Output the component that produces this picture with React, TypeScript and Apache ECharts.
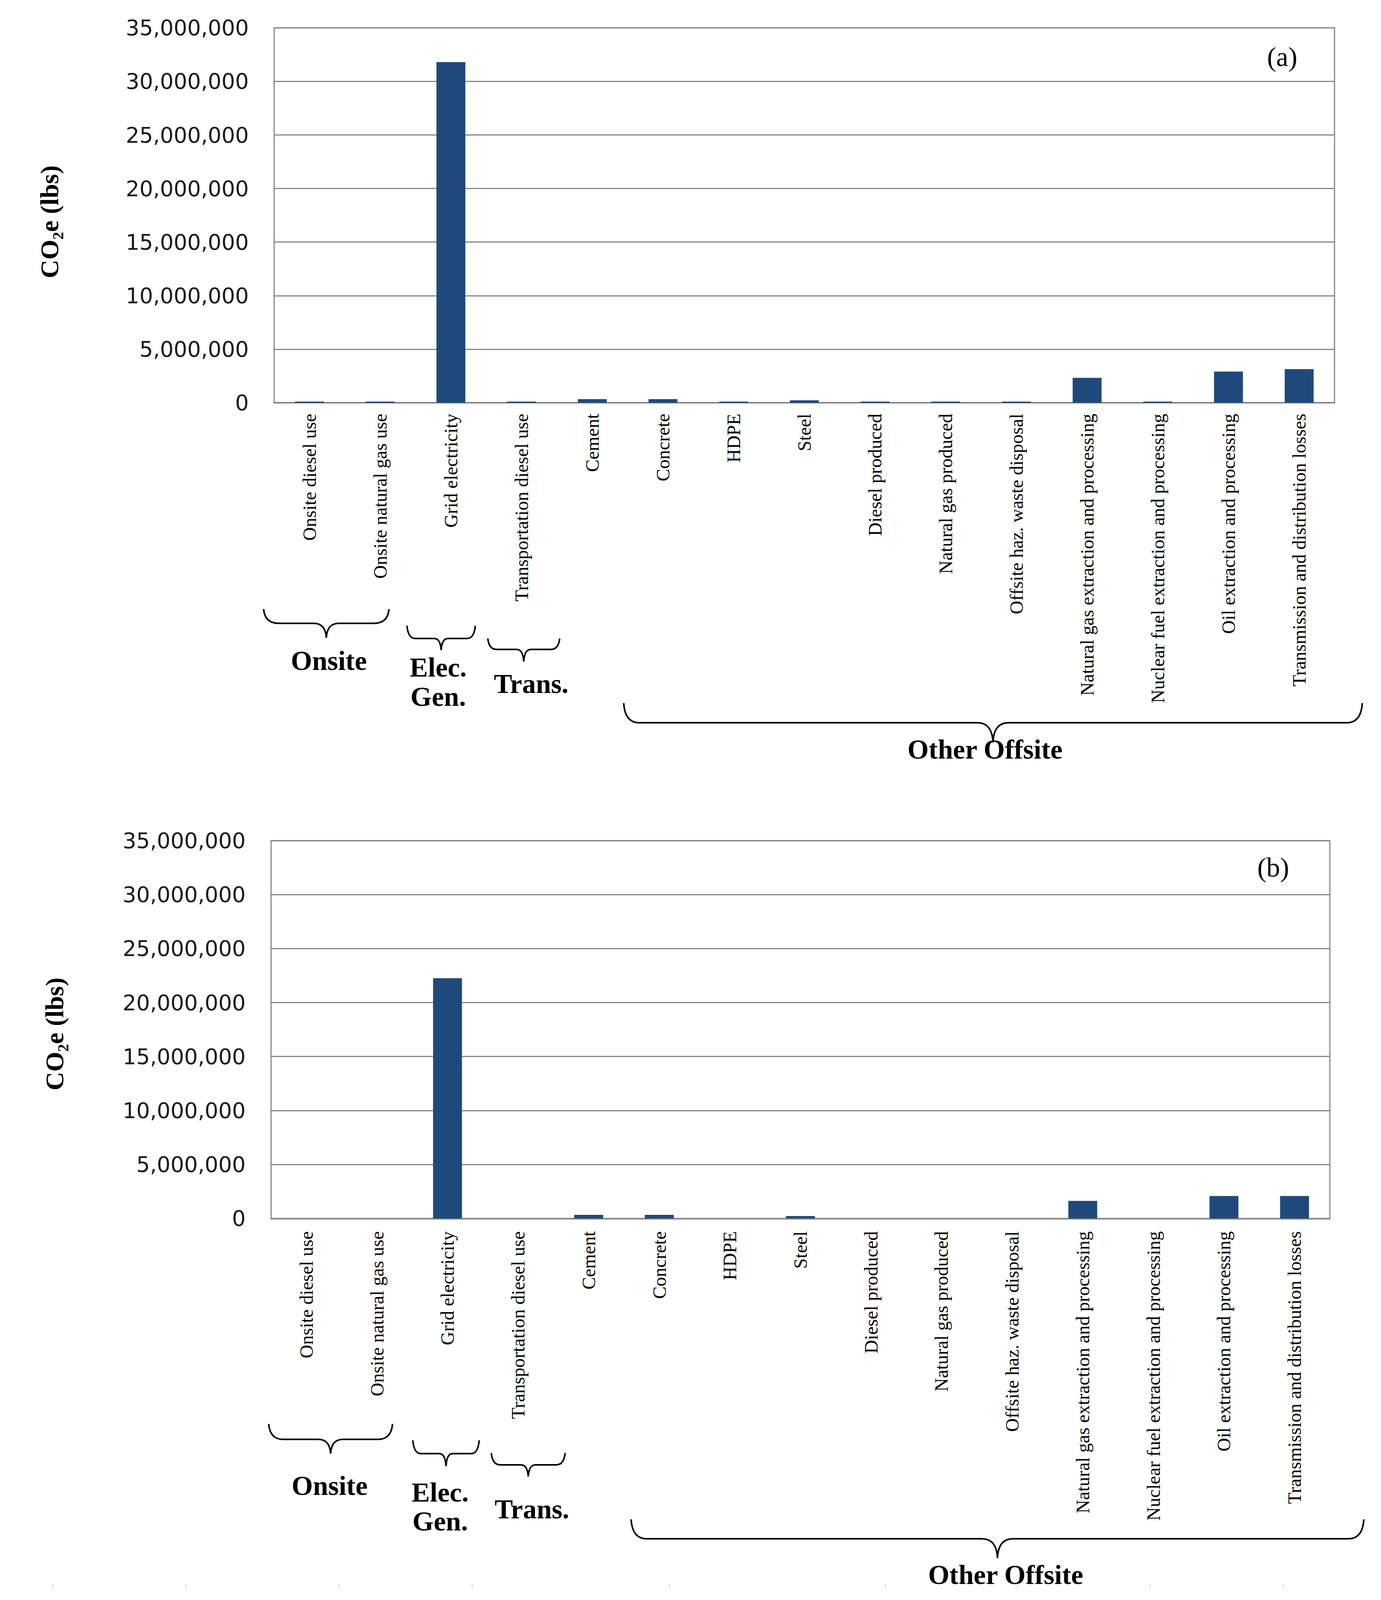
import React, { useEffect, useRef } from "react";
import * as echarts from "echarts";

// ---------- data ----------
const categories = [
  "Onsite diesel use",
  "Onsite natural gas use",
  "Grid electricity",
  "Transportation diesel use",
  "Cement",
  "Concrete",
  "HDPE",
  "Steel",
  "Diesel produced",
  "Natural gas produced",
  "Offsite haz. waste disposal",
  "Natural gas extraction and processing",
  "Nuclear fuel extraction and processing",
  "Oil extraction and processing",
  "Transmission and distribution losses",
];

const valuesA = [
  110000, 110000, 31800000, 110000, 340000, 340000, 110000, 226000, 110000,
  110000, 110000, 2320000, 110000, 2910000, 3140000,
];

const valuesB = [
  0, 0, 22250000, 0, 337000, 337000, 0, 225000, 0, 0, 0, 1630000, 0, 2080000,
  2080000,
];

const yMin = 0;
const yMax = 35000000;
const yInterval = 5000000;

const panelLabels = ["(a)", "(b)"];
const groupNames = ["Onsite", "Elec.", "Gen.", "Trans.", "Other Offsite"];
const yAxisTitle = "CO\u2082e (lbs)";

// ---------- helpers ----------
const fmt = (v: number) =>
  String(v).replace(/\B(?=(\d{3})+(?!\d))/g, ",");

let braceRegistered = false;
function registerBrace() {
  if (braceRegistered) return;
  const Brace = (echarts.graphic as any).extendShape({
    type: "brace",
    shape: { x1: 0, x2: 0, yTop: 0, yBar: 0, yTip: 0 },
    buildPath(ctx: any, s: any) {
      const xm = (s.x1 + s.x2) / 2;
      const w = s.x2 - s.x1;
      const r = Math.min(w * 0.12, 40);
      const r2 = Math.min(w * 0.1, 40);
      ctx.moveTo(s.x1, s.yTop);
      ctx.quadraticCurveTo(s.x1 + 3, s.yBar, s.x1 + r, s.yBar);
      ctx.lineTo(xm - r2, s.yBar);
      ctx.quadraticCurveTo(xm - 2, s.yBar, xm, s.yTip);
      ctx.quadraticCurveTo(xm + 2, s.yBar, xm + r2, s.yBar);
      ctx.lineTo(s.x2 - r, s.yBar);
      ctx.quadraticCurveTo(s.x2 - 3, s.yBar, s.x2, s.yTop);
    },
  });
  echarts.graphic.registerShape("brace", Brace);
  braceRegistered = true;
}

const AXIS_GREY = "#878787";
const BAR_COLOR = "#1F497D";
const REF_H = 5280;

export default function App() {
  const ref = useRef<HTMLDivElement>(null);
  const viewH =
    typeof window !== "undefined" && window.innerHeight
      ? window.innerHeight
      : REF_H;
  const k = Math.min(1, viewH / REF_H);

  useEffect(() => {
    if (!ref.current) return;
    document.body.style.margin = "0";
    registerBrace();
    const chart = echarts.init(ref.current, null, { renderer: "svg" });
    const sy = (y: number) => y * k;

    const gridsRef = [
      { left: 702, top: 92, width: 2715, bottom: 1329 },
      { left: 694, top: 2774, width: 2711, bottom: 4021 },
    ];
    const grids = gridsRef.map((g) => ({
      left: g.left,
      top: sy(g.top),
      width: g.width,
      height: sy(g.bottom) - sy(g.top),
    }));
    const labelMargins = [36, 42];

    const xAxes = grids.map((_, i) => ({
      type: "category" as const,
      gridIndex: i,
      data: categories,
      axisLine: { show: true, lineStyle: { color: AXIS_GREY, width: 4 } },
      axisTick: { show: false },
      axisLabel: {
        interval: 0,
        rotate: 90,
        margin: sy(labelMargins[i]),
        fontFamily: "Liberation Serif",
        fontSize: Math.round(62 * k),
        color: "#000",
      },
      splitLine: { show: false },
    }));

    const yAxes = grids.map((_, i) => ({
      type: "value" as const,
      gridIndex: i,
      min: yMin,
      max: yMax,
      interval: yInterval,
      axisLine: { show: false },
      axisTick: { show: false },
      axisLabel: {
        margin: 65,
        fontFamily: "DejaVu Sans",
        fontSize: 55,
        color: "#1a1a1a",
        formatter: (v: number) => fmt(v),
      },
      splitLine: { show: true, lineStyle: { color: AXIS_GREY, width: 3 } },
    }));

    const braceStyle = { stroke: "#000", lineWidth: 4, fill: "none" };
    const groupFont = {
      fontFamily: "Liberation Serif",
      fontWeight: "bold",
      fontSize: k < 1 ? 70 : 76,
      lineHeight: k < 1 ? 60 : 80,
      fill: "#000",
      align: "center",
      verticalAlign: "middle",
    };

    const braces = [
      // panel (a)
      { x1: 675, x2: 996, yTop: 2010, yBar: 2057, yTip: 2105 },
      { x1: 1042, x2: 1217, yTop: 2065, yBar: 2107, yTip: 2145 },
      { x1: 1249, x2: 1433, yTop: 2107, yBar: 2143, yTip: 2183 },
      { x1: 1597, x2: 3488, yTop: 2320, yBar: 2385, yTip: 2450 },
      // panel (b)
      { x1: 688, x2: 1005, yTop: 4699, yBar: 4750, yTip: 4797 },
      { x1: 1057, x2: 1227, yTop: 4753, yBar: 4797, yTip: 4838 },
      { x1: 1258, x2: 1447, yTop: 4795, yBar: 4834, yTip: 4872 },
      { x1: 1616, x2: 3492, yTop: 5014, yBar: 5078, yTip: 5142 },
    ];

    const groupLabelPos = [
      [
        [842, 2180],
        [1122, 2203],
        [1122, 2299],
        [1360, 2257],
        [2522, 2473],
      ],
      [
        [844, 4903],
        [1127, 4925],
        [1127, 5020],
        [1362, 4980],
        [2575, 5197],
      ],
    ];

    const faintTicks = [135, 476, 868, 1209, 1714, 2267, 2605, 2945, 3286];

    const graphic: any[] = [];
    braces.forEach((b) =>
      graphic.push({
        type: "brace",
        shape: {
          x1: b.x1,
          x2: b.x2,
          yTop: sy(b.yTop),
          yBar: sy(b.yBar),
          yTip: sy(b.yTip),
        },
        style: braceStyle,
        silent: true,
      })
    );
    groupLabelPos.forEach((panel) =>
      panel.forEach((p, j) =>
        graphic.push({
          type: "text",
          x: p[0],
          y: sy(p[1]),
          style: { text: groupNames[j], ...groupFont },
        })
      )
    );
    [
      [3283, 187],
      [3260, 2863],
    ].forEach((p, i) =>
      graphic.push({
        type: "text",
        x: p[0],
        y: sy(p[1]),
        style: {
          text: panelLabels[i],
          fontFamily: "Liberation Serif",
          fontSize: 70,
          fill: "#000",
          align: "center",
          verticalAlign: "middle",
        },
      })
    );
    [
      [126, 732],
      [139, 3412],
    ].forEach((p) =>
      graphic.push({
        type: "text",
        x: p[0],
        y: sy(p[1]),
        rotation: Math.PI / 2,
        style: {
          text: yAxisTitle,
          fontFamily: "Liberation Serif",
          fontWeight: "bold",
          fontSize: Math.round(85 * k),
          fill: "#000",
          align: "center",
          verticalAlign: "middle",
        },
      })
    );
    faintTicks.forEach((x) =>
      graphic.push({
        type: "line",
        shape: { x1: x, y1: sy(5226), x2: x, y2: sy(5242) },
        style: { stroke: "#d4d4d4", lineWidth: 2 },
        silent: true,
      })
    );

    chart.setOption({
      animation: false,
      backgroundColor: "#ffffff",
      grid: grids.map((g) => ({
        ...g,
        show: true,
        borderColor: AXIS_GREY,
        borderWidth: 3,
        backgroundColor: "transparent",
        containLabel: false,
      })),
      xAxis: xAxes,
      yAxis: yAxes,
      series: [valuesA, valuesB].map((vals, i) => ({
        type: "bar",
        xAxisIndex: i,
        yAxisIndex: i,
        data: vals,
        barWidth: 74,
        itemStyle: { color: BAR_COLOR },
      })),
      graphic,
    });

    return () => chart.dispose();
  }, [k]);

  return (
    <div
      ref={ref}
      style={{
        width: 3536,
        height: Math.floor(REF_H * k),
        background: "#fff",
      }}
    />
  );
}
